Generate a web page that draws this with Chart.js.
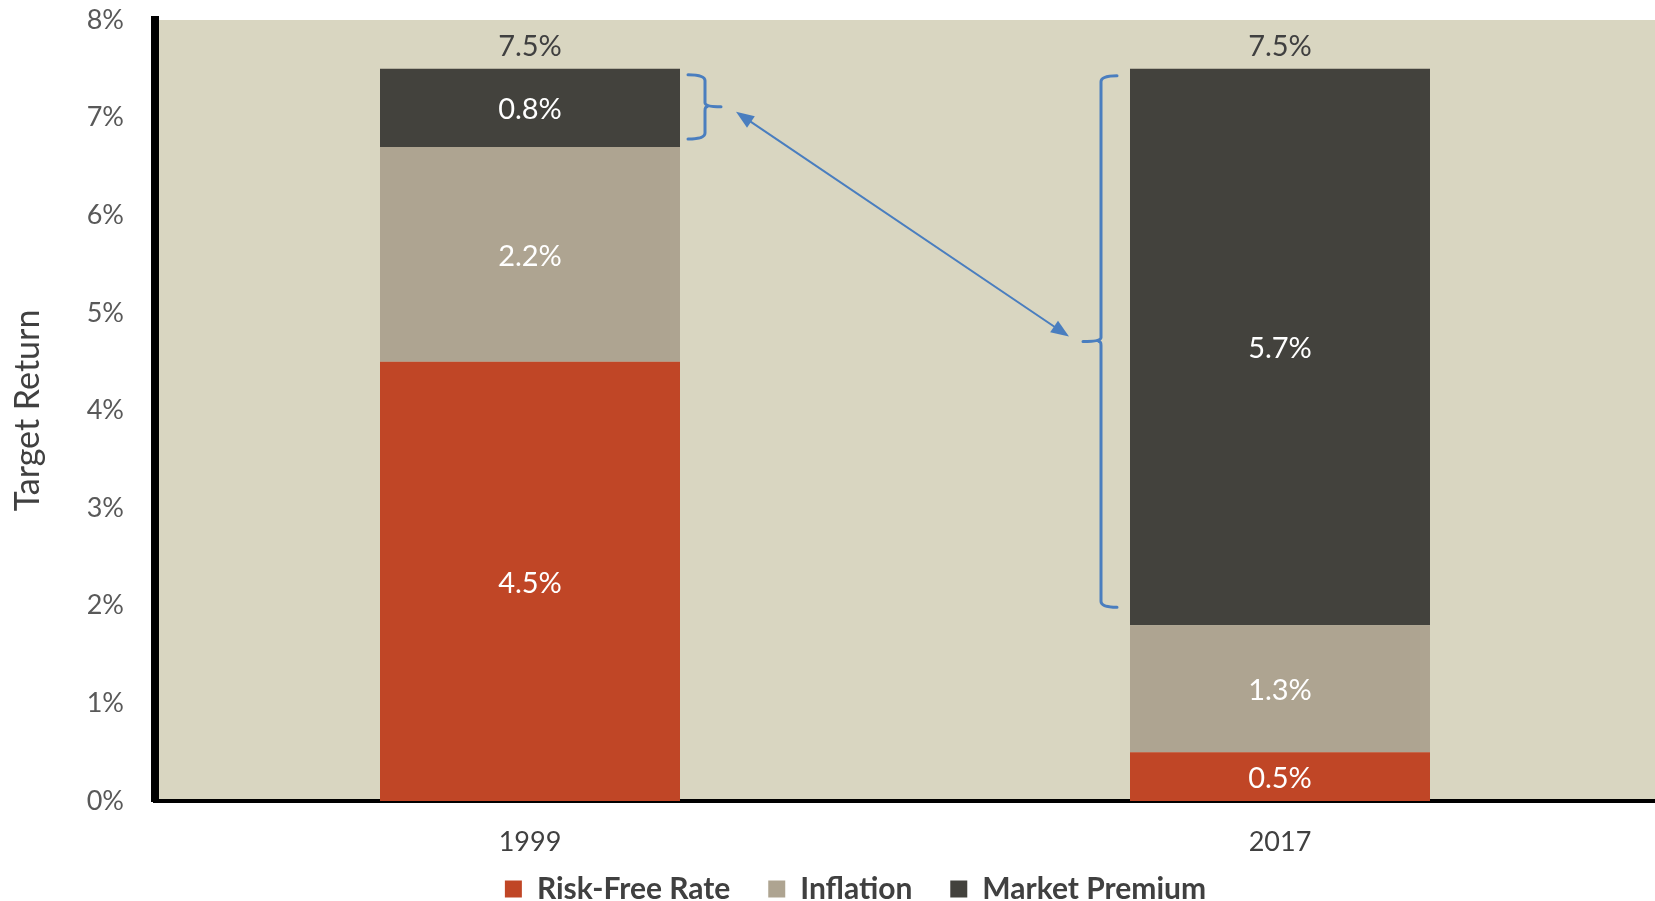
<!DOCTYPE html>
<html>
<head>
<meta charset="utf-8">
<script src="https://cdn.jsdelivr.net/npm/chart.js@4.4.1/dist/chart.umd.min.js"></script>
<style>
  html, body { margin: 0; padding: 0; background: #fff; }
  #wrap { width: 1655px; height: 901px; }
</style>
</head>
<body>
<div id="wrap"><canvas id="chart" width="1655" height="901"></canvas></div>
<script>
  // datos
  const years = ["1999", "2017"];
  const riskFree = [4.5, 0.5];
  const inflation = [2.2, 1.3];
  const marketPremium = [0.8, 5.7];
  const yTicks = [0, 1, 2, 3, 4, 5, 6, 7, 8];

  const FONT = "Lato, 'Open Sans', sans-serif";

  // fondo del área del gráfico
  const plotBg = {
    id: "plotBg",
    beforeDraw(chart) {
      const { ctx, chartArea: a } = chart;
      ctx.save();
      ctx.fillStyle = "#D9D6C1";
      ctx.fillRect(a.left, a.top, a.right - a.left, a.bottom - a.top);
      ctx.restore();
    },
  };

  // etiquetas de valores, totales, llaves y flecha
  const overlay = {
    id: "overlay",
    afterDatasetsDraw(chart) {
      const { ctx } = chart;
      const y = chart.scales.y;
      ctx.save();
      ctx.textAlign = "center";
      ctx.textBaseline = "middle";
      ctx.font = "29px " + FONT;
      ctx.fillStyle = "#ffffff";
      chart.data.datasets.forEach((ds, i) => {
        chart.getDatasetMeta(i).data.forEach((bar, j) => {
          const cy = (bar.y + bar.base) / 2;
          ctx.fillText(ds.data[j].toFixed(1) + "%", bar.x, cy + 2);
        });
      });
      // totales arriba
      ctx.fillStyle = "#404040";
      years.forEach((_, j) => {
        const total = riskFree[j] + inflation[j] + marketPremium[j];
        const bar = chart.getDatasetMeta(2).data[j];
        ctx.fillText(total.toFixed(1) + "%", bar.x, y.getPixelForValue(total) - 22);
      });

      ctx.strokeStyle = "#4A7EBF";
      ctx.fillStyle = "#4A7EBF";
      ctx.lineWidth = 3;
      ctx.lineCap = "round";

      // llave derecha junto a 1999
      const b1 = chart.getDatasetMeta(2).data[0];
      const r1 = b1.x + b1.width / 2;
      const t1 = y.getPixelForValue(riskFree[0] + inflation[0] + marketPremium[0]) + 6;
      const bt1 = y.getPixelForValue(riskFree[0] + inflation[0]) - 8;
      const m1 = (t1 + bt1) / 2;
      const xa = r1 + 8, xv = r1 + 25, xt = r1 + 41;
      ctx.beginPath();
      ctx.moveTo(xa, t1);
      ctx.quadraticCurveTo(xv, t1, xv, t1 + 6);
      ctx.lineTo(xv, m1 - 4);
      ctx.quadraticCurveTo(xv, m1, xt, m1);
      ctx.moveTo(xv + 2, m1);
      ctx.quadraticCurveTo(xv, m1, xv, m1 + 4);
      ctx.lineTo(xv, bt1 - 6);
      ctx.quadraticCurveTo(xv, bt1, xa, bt1);
      ctx.stroke();

      // llave izquierda junto a 2017
      const b2 = chart.getDatasetMeta(2).data[1];
      const l2 = b2.x - b2.width / 2;
      const t2 = y.getPixelForValue(riskFree[1] + inflation[1] + marketPremium[1]) + 7;
      const bt2 = y.getPixelForValue(riskFree[1] + inflation[1]) - 18;
      const m2 = (t2 + bt2) / 2;
      const xa2 = l2 - 13, xv2 = l2 - 29, xt2 = l2 - 47;
      ctx.beginPath();
      ctx.moveTo(xa2, t2);
      ctx.quadraticCurveTo(xv2, t2, xv2, t2 + 6);
      ctx.lineTo(xv2, m2 - 4);
      ctx.quadraticCurveTo(xv2, m2, xt2, m2);
      ctx.moveTo(xv2 - 2, m2);
      ctx.quadraticCurveTo(xv2, m2, xv2, m2 + 4);
      ctx.lineTo(xv2, bt2 - 6);
      ctx.quadraticCurveTo(xv2, bt2, xa2, bt2);
      ctx.stroke();

      // flecha doble
      const p1 = { x: xt + 15, y: m1 + 5 };
      const p2 = { x: xt2 - 14, y: m2 - 5 };
      const ang = Math.atan2(p2.y - p1.y, p2.x - p1.x);
      const hl = 18, hw = 7;
      ctx.lineWidth = 2;
      ctx.beginPath();
      ctx.moveTo(p1.x + Math.cos(ang) * hl, p1.y + Math.sin(ang) * hl);
      ctx.lineTo(p2.x - Math.cos(ang) * hl, p2.y - Math.sin(ang) * hl);
      ctx.stroke();
      [[p1, ang], [p2, ang + Math.PI]].forEach(([p, a]) => {
        ctx.beginPath();
        ctx.moveTo(p.x, p.y);
        ctx.lineTo(p.x + Math.cos(a) * hl - Math.sin(a) * hw, p.y + Math.sin(a) * hl + Math.cos(a) * hw);
        ctx.lineTo(p.x + Math.cos(a) * hl + Math.sin(a) * hw, p.y + Math.sin(a) * hl - Math.cos(a) * hw);
        ctx.closePath();
        ctx.fill();
      });
      ctx.restore();
    },
  };

  new Chart(document.getElementById("chart").getContext("2d"), {
    type: "bar",
    data: {
      labels: years,
      datasets: [
        { label: "Risk-Free Rate   ", data: riskFree, backgroundColor: "#C04626" },
        { label: "Inflation   ", data: inflation, backgroundColor: "#AEA491" },
        { label: "Market Premium", data: marketPremium, backgroundColor: "#43423D" },
      ],
    },
    options: {
      responsive: false,
      animation: false,
      layout: { padding: { top: 20, right: 0, left: 56, bottom: -13 } },
      datasets: { bar: { categoryPercentage: 1, barPercentage: 0.4, borderWidth: 0 } },
      plugins: {
        legend: {
          position: "bottom",
          labels: {
            boxWidth: 17,
            boxHeight: 17,
            padding: 16,
            color: "#404040",
            font: { family: FONT, size: 30, weight: "bold" },
          },
        },
        tooltip: { enabled: false },
      },
      scales: {
        x: {
          stacked: true,
          grid: { display: false, drawTicks: false },
          border: { display: true, color: "#000", width: 4 },
          ticks: { color: "#404040", padding: 28, font: { family: FONT, size: 27, lineHeight: 1 } },
          afterFit(s) {
            s.height = 858 - 801;
            s.paddingLeft = 0;
            s.paddingRight = 0;
          },
        },
        y: {
          stacked: true,
          min: 0,
          max: 8,
          afterBuildTicks(s) {
            s.ticks = yTicks.map((v) => ({ value: v }));
          },
          grid: { display: false, drawTicks: false },
          border: { display: true, color: "#000", width: 8 },
          ticks: {
            color: "#595959",
            padding: 31,
            font: { family: FONT, size: 27 },
            callback: (v) => v + "%",
          },
          title: {
            display: true,
            text: "Target Return",
            color: "#404040",
            padding: { top: -48, bottom: 0 },
            font: { family: FONT, size: 34 },
          },
          afterFit(s) {
            s.width = 99;
            s.paddingTop = 0;
            s.paddingBottom = 0;
          },
        },
      },
    },
    plugins: [plotBg, overlay],
  });
</script>
</body>
</html>
